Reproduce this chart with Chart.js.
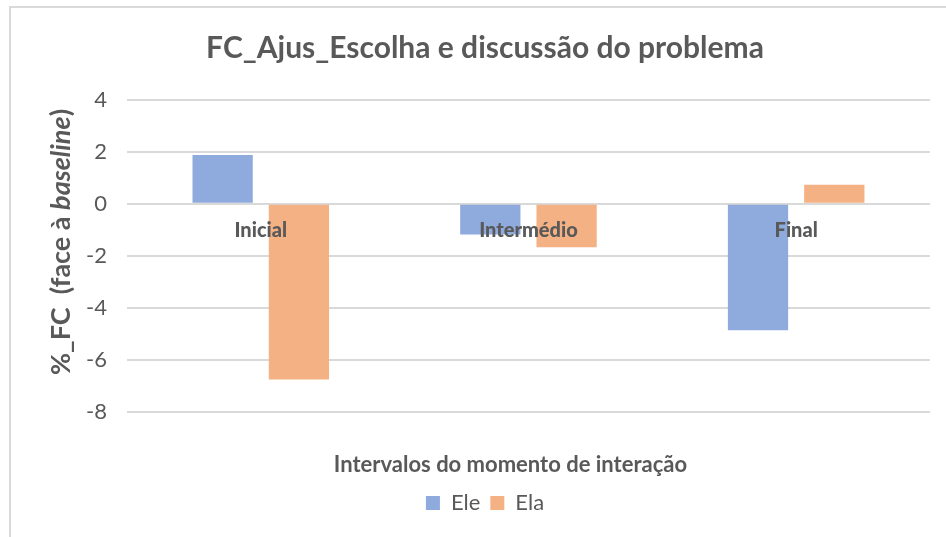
<!DOCTYPE html>
<html lang="pt">
<head>
  <meta charset="UTF-8">
  <title>FC_Ajus_Escolha e discussão do problema</title>
  <style>
    html, body {
      margin: 0;
      padding: 0;
      background: white;
    }
    .frame {
      position: absolute;
      left: 9px;
      top: 6px;
      width: 950px;
      height: 540px;
      border-left: 2px solid #d9d9d9;
      border-top: 2px solid #d9d9d9;
    }
    .chart-wrapper {
      position: absolute;
      left: 0;
      top: 0;
      width: 946px;
      height: 537px;
    }
  </style>
</head>
<body>
  <div class="frame"></div>
  <div class="chart-wrapper">
    <canvas id="chart"></canvas>
  </div>

  <script src="https://cdn.jsdelivr.net/npm/chart.js@4.4.0/dist/chart.umd.min.js"></script>
  <script>
    const CATEGORIES = ['Inicial', 'Intermédio', 'Final'];
    const ELE = [1.88, -1.18, -4.87];
    const ELA = [-6.76, -1.67, 0.74];
    const Y_TICKS = [-8, -6, -4, -2, 0, 2, 4];

    const TEXT_COLOR = '#595959';
    const FONT = 'Lato, "Open Sans", sans-serif';
    const X_TITLE = 'Intervalos do momento de interação';

    // category names sit just under the zero line, like in Excel
    const categoryLabels = {
      id: 'categoryLabels',
      afterDatasetsDraw(chart) {
        const ctx = chart.ctx;
        const x = chart.scales.x;
        const y = chart.scales.y;
        const y0 = y.getPixelForValue(0);
        ctx.save();
        ctx.font = `900 20px ${FONT}`;
        ctx.fillStyle = TEXT_COLOR;
        ctx.textAlign = 'center';
        ctx.textBaseline = 'middle';
        CATEGORIES.forEach((c, i) => {
          ctx.fillText(c, x.getPixelForValue(i), y0 + 27);
        });
        ctx.restore();
      }
    };

    // axis titles: y one has italic "baseline", x one is centred on the whole chart
    const axisTitles = {
      id: 'axisTitles',
      afterDraw(chart) {
        const ctx = chart.ctx;
        const size = 27;
        const parts = [
          { t: '%_FC  (face à ', f: `bold ${size}px ${FONT}` },
          { t: 'baseline', f: `italic bold ${size}px ${FONT}` },
          { t: ')', f: `bold ${size}px ${FONT}` }
        ];
        ctx.save();
        let total = 0;
        parts.forEach(p => { ctx.font = p.f; total += ctx.measureText(p.t).width; });
        ctx.translate(61, 242);
        ctx.rotate(-Math.PI / 2);
        ctx.fillStyle = TEXT_COLOR;
        ctx.textBaseline = 'middle';
        let cx = -total / 2;
        parts.forEach(p => {
          ctx.font = p.f;
          ctx.fillText(p.t, cx, 0);
          cx += ctx.measureText(p.t).width;
        });
        ctx.restore();

        const x = chart.scales.x;
        ctx.save();
        ctx.font = `bold 22px ${FONT}`;
        ctx.fillStyle = TEXT_COLOR;
        ctx.textAlign = 'center';
        ctx.textBaseline = 'middle';
        ctx.fillText(X_TITLE, x.left + (x.right - x.left) / 2 - 18, x.bottom - 17);
        ctx.restore();
      }
    };

    new Chart(document.getElementById('chart'), {
      type: 'bar',
      data: {
        labels: CATEGORIES,
        datasets: [
          {
            label: 'Ele',
            data: ELE,
            backgroundColor: '#8faadc',
            categoryPercentage: 0.57,
            barPercentage: 0.79
          },
          {
            label: 'Ela',
            data: ELA,
            backgroundColor: '#f4b183',
            categoryPercentage: 0.57,
            barPercentage: 0.79
          }
        ]
      },
      plugins: [categoryLabels, axisTitles],
      options: {
        responsive: true,
        maintainAspectRatio: false,
        animation: false,
        layout: {
          padding: { left: 40, right: 16, top: 30, bottom: 13 }
        },
        plugins: {
          title: {
            display: true,
            text: 'FC_Ajus_Escolha e discussão do problema',
            color: TEXT_COLOR,
            font: { family: FONT, size: 30, weight: 'bold' },
            padding: { top: 0, bottom: 34 }
          },
          legend: {
            position: 'bottom',
            labels: {
              color: TEXT_COLOR,
              font: { family: FONT, size: 22 },
              boxWidth: 14,
              boxHeight: 14,
              padding: 10
            }
          },
          tooltip: { enabled: false }
        },
        scales: {
          x: {
            grid: { display: false },
            border: { display: false },
            ticks: { display: false },
            title: {
              // space only, text is drawn by axisTitles
              display: true,
              text: X_TITLE,
              color: 'rgba(0,0,0,0)',
              font: { family: FONT, size: 22, weight: 'bold' },
              padding: { top: 32, bottom: 4 }
            }
          },
          y: {
            min: -8,
            max: 4,
            afterBuildTicks(scale) {
              scale.ticks = Y_TICKS.map(v => ({ value: v }));
            },
            afterFit(scale) {
              scale.width += 26;
            },
            grid: { color: '#d9d9d9', lineWidth: 2, drawTicks: false },
            border: { display: false },
            ticks: {
              color: TEXT_COLOR,
              font: { family: FONT, size: 22 },
              padding: 20
            }
          }
        }
      }
    });
  </script>
</body>
</html>
